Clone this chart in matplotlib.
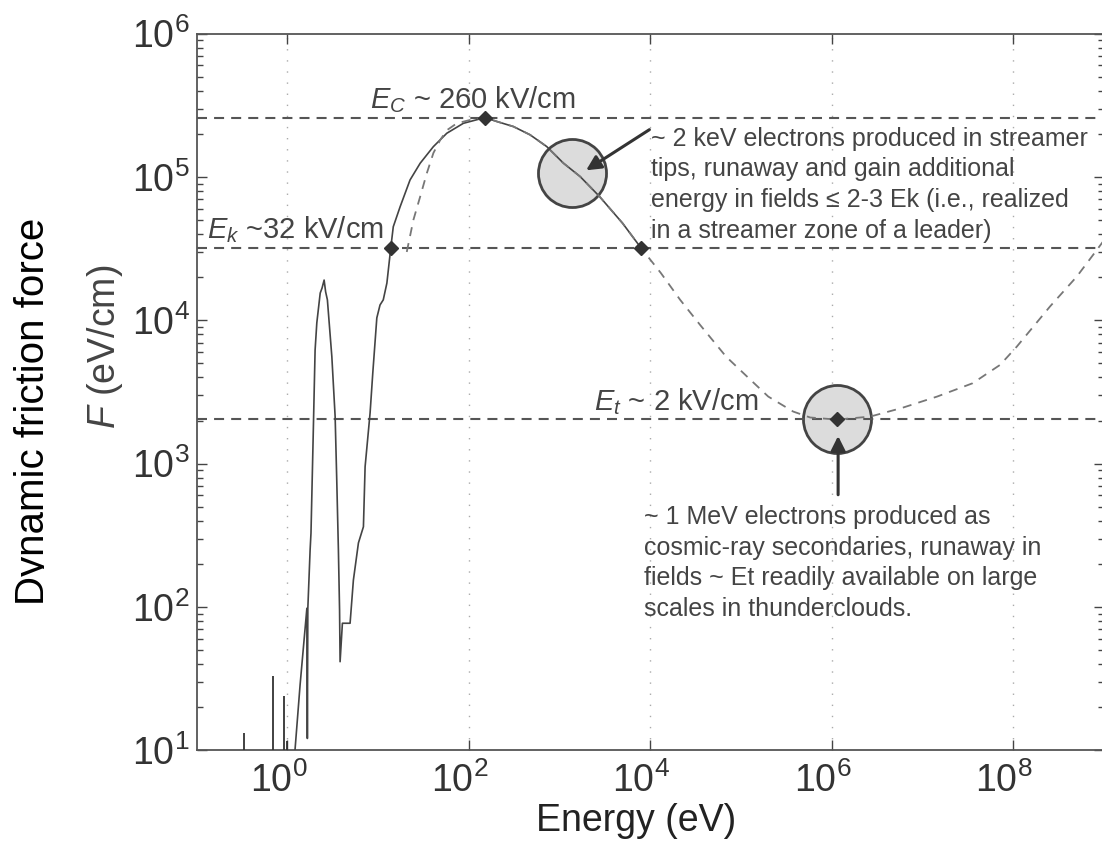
import numpy as np
import matplotlib
matplotlib.use("Agg")
import matplotlib.pyplot as plt
from matplotlib.ticker import FixedLocator, NullLocator, FuncFormatter
from matplotlib.transforms import ScaledTranslation, Bbox, TransformedBbox

plt.rcParams['font.family'] = ['Liberation Sans', 'DejaVu Sans']
plt.rcParams['mathtext.fontset'] = 'custom'
plt.rcParams['mathtext.rm'] = 'Liberation Sans'
plt.rcParams['mathtext.it'] = 'Liberation Sans:italic'
plt.rcParams['mathtext.default'] = 'regular'

# dynamic friction force F (eV/cm) against electron energy (eV)
solid_energy = [1.19, 1.38, 1.64, 1.66, 1.68, 1.78, 1.82, 1.92, 2.02, 2.11,
                2.30, 2.41, 2.54, 2.64, 2.76, 3.09, 3.36, 3.50, 3.65, 3.76,
                3.81, 4.04, 4.91, 5.34, 6.07, 6.89, 7.19, 8.16, 8.74, 9.68,
                10.5, 11.4, 12.5, 13.8, 14.7, 17.5, 22.5, 29.1, 40.7, 57.2,
                87.1, 151, 204, 310, 474, 724, 1104, 1690, 2770, 4960, 7890]
solid_force = [8.6, 28.6, 98, 12.1, 98, 250, 328, 1460, 6200, 9600,
               15500, 16800, 19100, 15800, 13900, 5580, 2130, 770, 250, 95,
               41.5, 77, 77, 154, 280, 363, 953, 2260, 4300, 10400,
               12800, 13900, 18200, 32100, 45000, 62100, 95400, 124800, 163000, 202000,
               237000, 260000, 244000, 225000, 197000, 163000, 125000, 100700, 73000, 47600, 32100]

spike_energy = [0.336, 0.695, 0.92, 1.0]
spike_force = [13.2, 33.2, 24.0, 11.7]

dashed_energy = [20.7, 24.5, 29.1, 34.4, 40.7, 48.3, 57.2, 73.8, 103, 151,
                 204, 310, 474, 724, 1104, 1690, 2770, 4960, 7890, 13100,
                 21400, 35500, 68700, 1.17e5, 2.0e5, 3.77e5, 5.8e5, 1.15e6, 2.66e6, 5.99e6,
                 1.46e7, 3.59e7, 7.21e7, 1.10e8, 2.56e8, 5.05e8, 8.4e8, 1.18e9]
dashed_force = [30000, 50200, 73000, 106000, 147000, 181000, 212000, 237000, 250000, 260000,
                244000, 225000, 197000, 163000, 125000, 100700, 73000, 47600, 32100, 21400,
                13900, 9290, 5580, 4050, 2940, 2310, 2100, 2030, 2130, 2450,
                2940, 3640, 4890, 6550, 12500, 20200, 31000, 41400]

field_force = [2.6e5, 3.2e4, 2.04e3]          # Ec, Ek, Et
marker_energy = [151, 13.8, 7890, 1.15e6]
marker_force = [2.6e5, 3.2e4, 3.2e4, 2.04e3]
circle_energy = [1390, 1.15e6]
circle_force = [1.06e5, 2.04e3]

x_ticks = [1e0, 1e2, 1e4, 1e6, 1e8]
y_ticks = [1e1, 1e2, 1e3, 1e4, 1e5, 1e6]

note_keV = ("~ 2 keV electrons produced in streamer\n"
            "tips, runaway and gain additional\n"
            "energy in fields \u2264 2-3 Ek (i.e., realized\n"
            "in a streamer zone of a leader)")
note_MeV = ("~ 1 MeV electrons produced as\n"
            "cosmic-ray secondaries, runaway in\n"
            "fields ~ Et readily available on large\n"
            "scales in thunderclouds.")


def main():
    fig = plt.figure(figsize=(11.02, 8.48), dpi=100)
    ax = fig.add_axes([196.7 / 1102, 97.7 / 848, 907 / 1102, 716.6 / 848])
    ax.set_xscale('log')
    ax.set_yscale('log')
    ax.set_xlim(1e-1, 1e9)
    ax.set_ylim(1e1, 1e6)
    ax.set_axisbelow(True)

    ax.xaxis.set_major_locator(FixedLocator(x_ticks))
    ax.xaxis.set_minor_locator(NullLocator())
    ax.yaxis.set_major_locator(FixedLocator(y_ticks))
    fmt = FuncFormatter(lambda v, pos: r'$10^{%d}$' % round(np.log10(v)))
    ax.xaxis.set_major_formatter(fmt)
    ax.yaxis.set_major_formatter(fmt)
    ax.grid(True, axis='x', which='major', color='#aaaaaa', lw=1, linestyle=(0, (1, 7)))

    ax.tick_params(which='both', direction='in', top=True, right=True,
                   colors='#444444', labelcolor='#333333', labelsize=27)
    ax.tick_params(which='major', length=7, width=1)
    ax.tick_params(which='minor', length=4.5, width=1)
    ax.tick_params(axis='x', pad=9)
    ax.tick_params(axis='y', pad=5)
    for s in ax.spines.values():
        s.set_color('#555555')
        s.set_linewidth(1.3)

    # reference field levels
    for f in field_force:
        ax.axhline(f, color='#555555', lw=1.5, linestyle=(0, (4.8, 3.4)), zorder=2)

    ax.scatter(circle_energy, circle_force, s=2400, facecolor='#dcdcdc',
               edgecolor='#444444', lw=2, zorder=1)

    ax.vlines(spike_energy, 1, spike_force, color='#333333', lw=1.3, zorder=3)
    ax.plot(solid_energy, solid_force, color='#444444', lw=1.2, zorder=3)
    ax.plot(dashed_energy, dashed_force, color='#777777', lw=1.3,
            linestyle=(0, (5, 4)), zorder=3)
    ax.plot(marker_energy, marker_force, 'D', color='#333333', ms=7, zorder=4)

    ax.text(8.2, 3.02e5, r'$\mathit{E_C}$ ~ 260 kV/cm', fontsize=21, color='#444444', va='baseline')
    ax.text(0.130, 3.74e4, r'$\mathit{E_k}$ ~32 kV/cm', fontsize=21, color='#444444', va='baseline')
    ax.text(2405, 2370, r'$\mathit{E_t}$ ~ 2 kV/cm', fontsize=21, color='#444444', va='baseline')

    arrow = dict(arrowstyle='-|>', color='#333333', lw=2.2, mutation_scale=22,
                 shrinkA=0, shrinkB=0)
    ax.annotate('', xy=(1965, 1.114e5), xytext=(9800, 2.14e5), arrowprops=arrow, zorder=5)
    ax.annotate('', xy=(1.18e6, 1560), xytext=(1.18e6, 607), arrowprops=arrow, zorder=5)
    ax.text(10230, 2.24e5, note_keV, fontsize=18, color='#444444', va='top', linespacing=1.35)
    ax.text(8650, 515, note_MeV, fontsize=18, color='#444444', va='top', linespacing=1.35)

    ax.set_xlabel('Energy (eV)', fontsize=27, color='#222222')
    ax.xaxis.set_label_coords(0.4844, -0.0735)
    ax.set_ylabel(r'$\mathit{F}$ (eV/cm)', fontsize=27, color='#444444')
    ax.yaxis.set_label_coords(-0.079, 0.563)

    shift = ScaledTranslation(-0.09, 0, fig.dpi_scale_trans)
    for lbl in ax.get_xticklabels():
        lbl.set_transform(lbl.get_transform() + shift)

    t = fig.text(44 / 1102, 1 - 411 / 848, 'Dynamic friction force', rotation=90,
                 rotation_mode='anchor', ha='center', va='baseline', fontsize=29, color='black')
    t.set_clip_box(TransformedBbox(Bbox([[0, 0], [44 / 1102, 1]]), fig.transFigure))
    t.set_clip_on(True)

    fig.savefig('out.png', dpi=100)


if __name__ == "__main__":
    main()
